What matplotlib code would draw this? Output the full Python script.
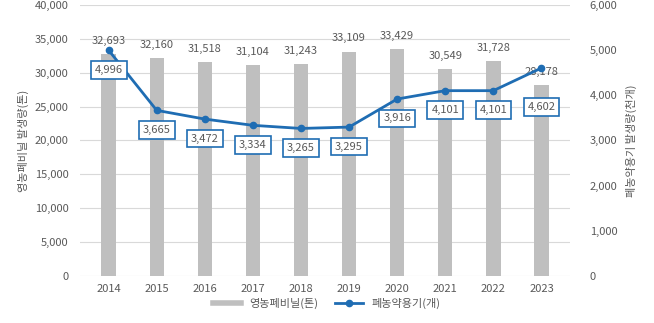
import matplotlib
matplotlib.use("Agg")
import matplotlib.pyplot as plt
from matplotlib.ticker import FuncFormatter

plt.rcParams['font.family'] = ['Noto Sans CJK KR', 'DejaVu Sans']

years = ['2014', '2015', '2016', '2017', '2018', '2019', '2020', '2021', '2022', '2023']
vinyl = [32693, 32160, 31518, 31104, 31243, 33109, 33429, 30549, 31728, 28178]
containers = [4996, 3665, 3472, 3334, 3265, 3295, 3916, 4101, 4101, 4602]

TEXT = '#595959'
BAR = '#bfbfbf'
LINE = '#1f6db3'

fig = plt.figure(figsize=(6.54, 3.23), dpi=100)
ax = fig.add_axes([0.122, 0.1455, 0.75, 0.8395])
ax2 = ax.twinx()

x = list(range(len(years)))
bars = ax.bar(x, vinyl, width=0.3, color=BAR, zorder=2, label='영농폐비닐(톤)')
ax.set_ylim(0, 40000)
ax.set_yticks(range(0, 40001, 5000))
ax.yaxis.set_major_formatter(FuncFormatter(lambda v, p: f'{int(v):,}'))
ax.grid(axis='y', color='#d9d9d9', linewidth=0.8, zorder=0)
ax.set_axisbelow(True)
ax.set_xlim(-0.6, len(years) - 0.4)
ax.set_xticks(x)
ax.set_xticklabels(years)

for xi, v in zip(x, vinyl):
    ax.annotate(f'{v:,}', (xi, v), xytext=(0, 6), textcoords='offset points',
                ha='center', va='bottom', fontsize=8, color=TEXT)

ax2.plot(x, containers, color=LINE, linewidth=2, marker='o', markersize=4.5,
         zorder=5, label='폐농약용기(개)')
ax2.set_ylim(0, 6000)
ax2.set_yticks(range(0, 6001, 1000))
ax2.yaxis.set_major_formatter(FuncFormatter(lambda v, p: f'{int(v):,}'))

for i, (xi, v) in enumerate(zip(x, containers)):
    dy = -28 if i == len(x) - 1 else -14
    ax2.annotate(f'{v:,}', (xi, v), xytext=(0, dy), textcoords='offset points',
                 ha='center', va='center', fontsize=8, color=TEXT, zorder=6,
                 bbox=dict(boxstyle='square,pad=0.35', fc='white', ec=LINE, lw=1.2))

for a in (ax, ax2):
    for s in a.spines.values():
        s.set_visible(False)
    a.tick_params(length=0, labelsize=8, colors=TEXT)
ax.tick_params(axis='x', pad=6)
ax.tick_params(axis='y', pad=8)
ax2.tick_params(axis='y', pad=14)

ax.set_ylabel('영농폐비닐 발생량(톤)', fontsize=8, color=TEXT, labelpad=4)
ax2.set_ylabel('폐농약용기 발생량(천개)', fontsize=8, color=TEXT, labelpad=6)

h1, l1 = ax.get_legend_handles_labels()
h2, l2 = ax2.get_legend_handles_labels()
from matplotlib.lines import Line2D
bar_handle = Line2D([0], [0], color=BAR, linewidth=4)
fig.legend([bar_handle, h2[0]], [l1[0], l2[0]], loc='center', bbox_to_anchor=(0.5, 0.06),
           ncol=2, frameon=False, fontsize=8, labelcolor=TEXT, handlelength=2.5,
           columnspacing=1.5)

fig.savefig('out.png', dpi=100)
